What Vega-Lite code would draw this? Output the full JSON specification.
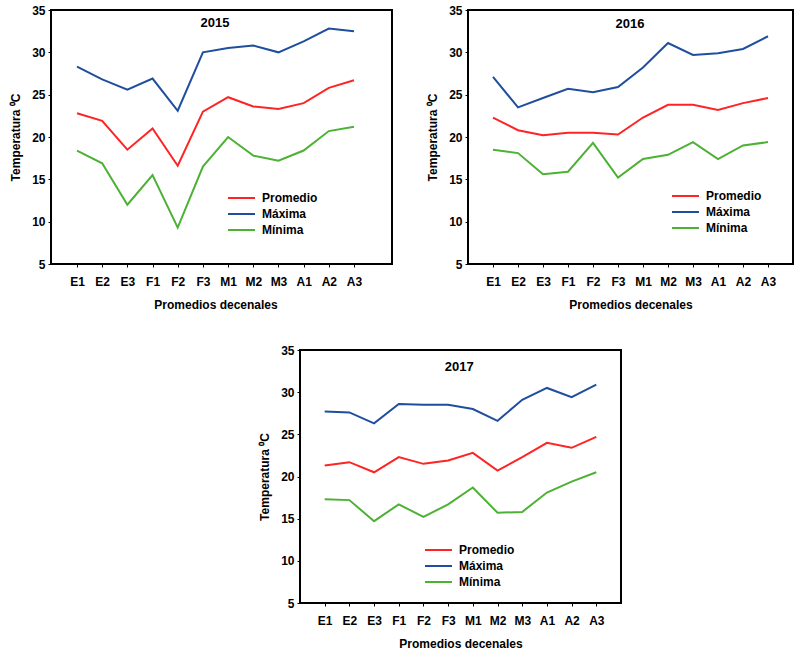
{
"$schema": "https://vega.github.io/schema/vega-lite/v6.json",
"padding": {"left": 8, "top": 3, "right": 0, "bottom": 0},
"background": "white",
"datasets": {"d": [
{"year":2015,"period":"E1","serie":"Máxima","value":28.3},{"year":2015,"period":"E2","serie":"Máxima","value":26.8},{"year":2015,"period":"E3","serie":"Máxima","value":25.6},{"year":2015,"period":"F1","serie":"Máxima","value":26.9},{"year":2015,"period":"F2","serie":"Máxima","value":23.1},{"year":2015,"period":"F3","serie":"Máxima","value":30.0},{"year":2015,"period":"M1","serie":"Máxima","value":30.5},{"year":2015,"period":"M2","serie":"Máxima","value":30.8},{"year":2015,"period":"M3","serie":"Máxima","value":30.0},{"year":2015,"period":"A1","serie":"Máxima","value":31.3},{"year":2015,"period":"A2","serie":"Máxima","value":32.8},{"year":2015,"period":"A3","serie":"Máxima","value":32.5},
{"year":2015,"period":"E1","serie":"Promedio","value":22.8},{"year":2015,"period":"E2","serie":"Promedio","value":21.9},{"year":2015,"period":"E3","serie":"Promedio","value":18.5},{"year":2015,"period":"F1","serie":"Promedio","value":21.0},{"year":2015,"period":"F2","serie":"Promedio","value":16.6},{"year":2015,"period":"F3","serie":"Promedio","value":23.0},{"year":2015,"period":"M1","serie":"Promedio","value":24.7},{"year":2015,"period":"M2","serie":"Promedio","value":23.6},{"year":2015,"period":"M3","serie":"Promedio","value":23.3},{"year":2015,"period":"A1","serie":"Promedio","value":24.0},{"year":2015,"period":"A2","serie":"Promedio","value":25.8},{"year":2015,"period":"A3","serie":"Promedio","value":26.7},
{"year":2015,"period":"E1","serie":"Mínima","value":18.4},{"year":2015,"period":"E2","serie":"Mínima","value":16.9},{"year":2015,"period":"E3","serie":"Mínima","value":12.0},{"year":2015,"period":"F1","serie":"Mínima","value":15.5},{"year":2015,"period":"F2","serie":"Mínima","value":9.3},{"year":2015,"period":"F3","serie":"Mínima","value":16.5},{"year":2015,"period":"M1","serie":"Mínima","value":20.0},{"year":2015,"period":"M2","serie":"Mínima","value":17.8},{"year":2015,"period":"M3","serie":"Mínima","value":17.2},{"year":2015,"period":"A1","serie":"Mínima","value":18.4},{"year":2015,"period":"A2","serie":"Mínima","value":20.7},{"year":2015,"period":"A3","serie":"Mínima","value":21.2},
{"year":2016,"period":"E1","serie":"Máxima","value":27.1},{"year":2016,"period":"E2","serie":"Máxima","value":23.5},{"year":2016,"period":"E3","serie":"Máxima","value":24.6},{"year":2016,"period":"F1","serie":"Máxima","value":25.7},{"year":2016,"period":"F2","serie":"Máxima","value":25.3},{"year":2016,"period":"F3","serie":"Máxima","value":25.9},{"year":2016,"period":"M1","serie":"Máxima","value":28.2},{"year":2016,"period":"M2","serie":"Máxima","value":31.1},{"year":2016,"period":"M3","serie":"Máxima","value":29.7},{"year":2016,"period":"A1","serie":"Máxima","value":29.9},{"year":2016,"period":"A2","serie":"Máxima","value":30.4},{"year":2016,"period":"A3","serie":"Máxima","value":31.9},
{"year":2016,"period":"E1","serie":"Promedio","value":22.3},{"year":2016,"period":"E2","serie":"Promedio","value":20.8},{"year":2016,"period":"E3","serie":"Promedio","value":20.2},{"year":2016,"period":"F1","serie":"Promedio","value":20.5},{"year":2016,"period":"F2","serie":"Promedio","value":20.5},{"year":2016,"period":"F3","serie":"Promedio","value":20.3},{"year":2016,"period":"M1","serie":"Promedio","value":22.3},{"year":2016,"period":"M2","serie":"Promedio","value":23.8},{"year":2016,"period":"M3","serie":"Promedio","value":23.8},{"year":2016,"period":"A1","serie":"Promedio","value":23.2},{"year":2016,"period":"A2","serie":"Promedio","value":24.0},{"year":2016,"period":"A3","serie":"Promedio","value":24.6},
{"year":2016,"period":"E1","serie":"Mínima","value":18.5},{"year":2016,"period":"E2","serie":"Mínima","value":18.1},{"year":2016,"period":"E3","serie":"Mínima","value":15.6},{"year":2016,"period":"F1","serie":"Mínima","value":15.9},{"year":2016,"period":"F2","serie":"Mínima","value":19.3},{"year":2016,"period":"F3","serie":"Mínima","value":15.2},{"year":2016,"period":"M1","serie":"Mínima","value":17.4},{"year":2016,"period":"M2","serie":"Mínima","value":17.9},{"year":2016,"period":"M3","serie":"Mínima","value":19.4},{"year":2016,"period":"A1","serie":"Mínima","value":17.4},{"year":2016,"period":"A2","serie":"Mínima","value":19.0},{"year":2016,"period":"A3","serie":"Mínima","value":19.4},
{"year":2017,"period":"E1","serie":"Máxima","value":27.7},{"year":2017,"period":"E2","serie":"Máxima","value":27.6},{"year":2017,"period":"E3","serie":"Máxima","value":26.3},{"year":2017,"period":"F1","serie":"Máxima","value":28.6},{"year":2017,"period":"F2","serie":"Máxima","value":28.5},{"year":2017,"period":"F3","serie":"Máxima","value":28.5},{"year":2017,"period":"M1","serie":"Máxima","value":28.0},{"year":2017,"period":"M2","serie":"Máxima","value":26.6},{"year":2017,"period":"M3","serie":"Máxima","value":29.1},{"year":2017,"period":"A1","serie":"Máxima","value":30.5},{"year":2017,"period":"A2","serie":"Máxima","value":29.4},{"year":2017,"period":"A3","serie":"Máxima","value":30.9},
{"year":2017,"period":"E1","serie":"Promedio","value":21.3},{"year":2017,"period":"E2","serie":"Promedio","value":21.7},{"year":2017,"period":"E3","serie":"Promedio","value":20.5},{"year":2017,"period":"F1","serie":"Promedio","value":22.3},{"year":2017,"period":"F2","serie":"Promedio","value":21.5},{"year":2017,"period":"F3","serie":"Promedio","value":21.9},{"year":2017,"period":"M1","serie":"Promedio","value":22.8},{"year":2017,"period":"M2","serie":"Promedio","value":20.7},{"year":2017,"period":"M3","serie":"Promedio","value":22.3},{"year":2017,"period":"A1","serie":"Promedio","value":24.0},{"year":2017,"period":"A2","serie":"Promedio","value":23.4},{"year":2017,"period":"A3","serie":"Promedio","value":24.7},
{"year":2017,"period":"E1","serie":"Mínima","value":17.3},{"year":2017,"period":"E2","serie":"Mínima","value":17.2},{"year":2017,"period":"E3","serie":"Mínima","value":14.7},{"year":2017,"period":"F1","serie":"Mínima","value":16.7},{"year":2017,"period":"F2","serie":"Mínima","value":15.2},{"year":2017,"period":"F3","serie":"Mínima","value":16.7},{"year":2017,"period":"M1","serie":"Mínima","value":18.7},{"year":2017,"period":"M2","serie":"Mínima","value":15.7},{"year":2017,"period":"M3","serie":"Mínima","value":15.8},{"year":2017,"period":"A1","serie":"Mínima","value":18.1},{"year":2017,"period":"A2","serie":"Mínima","value":19.4},{"year":2017,"period":"A3","serie":"Mínima","value":20.5}
]},
"spacing": 32,
"vconcat": [
{"hconcat": [
{"width": 341, "height": 254,
 "layer": [
 {"data": {"name": "d"},
  "transform": [{"filter": "datum.year == 2015"}],
  "mark": {"type": "line", "strokeWidth": 2},
  "encoding": {
   "x": {"field": "period", "type": "ordinal", "sort": ["E1","E2","E3","F1","F2","F3","M1","M2","M3","A1","A2","A3"], "scale": {"type": "point", "range": [26, 303], "padding": 0}, "axis": {"title": "Promedios decenales", "labelAngle": 0}},
   "y": {"field": "value", "type": "quantitative", "scale": {"domain": [5, 35], "nice": false}, "axis": {"title": "Temperatura ⁰C", "values": [5,10,15,20,25,30,35]}},
   "color": {"field": "serie", "type": "nominal", "sort": ["Promedio","Máxima","Mínima"], "scale": {"domain": ["Promedio","Máxima","Mínima"], "range": ["#FF2424","#1F4E9E","#4CB134"]}, "legend": {"orient": "none", "legendX": 176, "legendY": 180, "title": null}}
  }},
 {"data": {"values": [{}]},
  "mark": {"type": "text", "fontSize": 13, "fontWeight": "bold", "color": "black", "dx": 12, "baseline": "middle"},
  "encoding": {"x": {"datum": "F3", "type": "ordinal"}, "y": {"datum": 33.5, "type": "quantitative"}, "text": {"value": "2015"}}}
 ]},
{"width": 325, "height": 254,
 "layer": [
 {"data": {"name": "d"},
  "transform": [{"filter": "datum.year == 2016"}],
  "mark": {"type": "line", "strokeWidth": 2},
  "encoding": {
   "x": {"field": "period", "type": "ordinal", "sort": ["E1","E2","E3","F1","F2","F3","M1","M2","M3","A1","A2","A3"], "scale": {"type": "point", "padding": 1}, "axis": {"title": "Promedios decenales", "labelAngle": 0}},
   "y": {"field": "value", "type": "quantitative", "scale": {"domain": [5, 35], "nice": false}, "axis": {"title": "Temperatura ⁰C", "values": [5,10,15,20,25,30,35]}},
   "color": {"field": "serie", "type": "nominal", "sort": ["Promedio","Máxima","Mínima"], "scale": {"domain": ["Promedio","Máxima","Mínima"], "range": ["#FF2424","#1F4E9E","#4CB134"]}, "legend": {"orient": "none", "legendX": 203, "legendY": 178, "title": null}}
  }},
 {"data": {"values": [{}]},
  "mark": {"type": "text", "fontSize": 13, "fontWeight": "bold", "color": "black", "dx": 12, "baseline": "middle"},
  "encoding": {"x": {"datum": "F3", "type": "ordinal"}, "y": {"datum": 33.4, "type": "quantitative"}, "text": {"value": "2016"}}}
 ]}
], "spacing": 32, "resolve": {"scale": {"color": "independent"}, "legend": {"color": "independent"}}},
{"hconcat": [
{"width": 206, "height": 10, "data": {"values": []}, "mark": "point", "encoding": {}, "view": {"stroke": null}},
{"width": 321, "height": 253,
 "layer": [
 {"data": {"name": "d"},
  "transform": [{"filter": "datum.year == 2017"}],
  "mark": {"type": "line", "strokeWidth": 2},
  "encoding": {
   "x": {"field": "period", "type": "ordinal", "sort": ["E1","E2","E3","F1","F2","F3","M1","M2","M3","A1","A2","A3"], "scale": {"type": "point", "padding": 1}, "axis": {"title": "Promedios decenales", "labelAngle": 0}},
   "y": {"field": "value", "type": "quantitative", "scale": {"domain": [5, 35], "nice": false}, "axis": {"title": "Temperatura ⁰C", "values": [5,10,15,20,25,30,35]}},
   "color": {"field": "serie", "type": "nominal", "sort": ["Promedio","Máxima","Mínima"], "scale": {"domain": ["Promedio","Máxima","Mínima"], "range": ["#FF2424","#1F4E9E","#4CB134"]}, "legend": {"orient": "none", "legendX": 124, "legendY": 192, "title": null}}
  }},
 {"data": {"values": [{}]},
  "mark": {"type": "text", "fontSize": 13, "fontWeight": "bold", "color": "black", "dx": 11, "baseline": "middle"},
  "encoding": {"x": {"datum": "F3", "type": "ordinal"}, "y": {"datum": 33.0, "type": "quantitative"}, "text": {"value": "2017"}}}
 ]}
], "spacing": 0, "resolve": {"scale": {"color": "independent"}, "legend": {"color": "independent"}}}
],
"resolve": {"scale": {"color": "independent"}, "legend": {"color": "independent"}},
"config": {
 "font": "Liberation Sans",
 "view": {"stroke": "black", "strokeWidth": 2},
 "axis": {"grid": false, "domain": false, "labelFontSize": 12, "labelFontWeight": "bold", "labelColor": "black", "titleFontSize": 12, "titleFontWeight": "bold", "titleColor": "black", "tickColor": "black", "tickSize": 3},
 "axisX": {"labelPadding": 9, "titlePadding": 12},
 "axisY": {"labelPadding": 3, "titlePadding": 9},
 "legend": {"symbolType": "stroke", "symbolStrokeWidth": 2, "symbolSize": 729, "labelFontSize": 12, "labelFontWeight": "bold", "labelColor": "black", "clipHeight": 16, "rowPadding": 0, "labelOffset": 6, "padding": 0}
}
}
